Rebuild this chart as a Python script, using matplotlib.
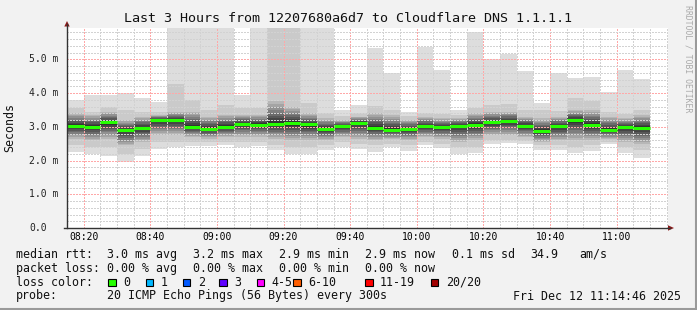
import matplotlib

matplotlib.use("Agg")
import matplotlib.dates as mdates
import matplotlib.pyplot as plt
import matplotlib.transforms as mtransforms
import pandas as pd
from matplotlib.lines import Line2D
from matplotlib.patches import Polygon, Rectangle

W, H = 697, 310
MONO = "DejaVu Sans Mono"

# one bar per 5-minute step, values in ms (smoke levels of the 20 sorted pings)
first_bar = "2025-12-12 08:15"
ping_max = [3.80, 3.95, 3.95, 4.00, 3.85, 3.75, 6.50, 6.50, 6.50, 6.50, 3.95, 6.50,
            6.50, 6.50, 6.50, 6.50, 3.49, 3.66, 5.33, 4.60, 3.45, 5.38, 4.68, 3.49,
            5.82, 5.02, 5.16, 4.65, 3.71, 4.60, 4.44, 4.49, 4.03, 4.68, 4.41]
ping_hi = [3.55, 3.45, 3.60, 3.50, 3.45, 3.45, 4.27, 3.80, 3.50, 3.64, 3.56, 3.56,
           6.20, 6.20, 3.71, 3.42, 3.32, 3.42, 3.61, 3.51, 3.32, 3.42, 3.37, 3.35,
           3.56, 3.64, 3.68, 3.49, 3.49, 3.47, 3.87, 3.76, 3.45, 3.37, 3.49]
core_hi = [3.40, 3.35, 3.45, 3.20, 3.30, 3.35, 3.45, 3.45, 3.30, 3.35, 3.35, 3.35,
           3.76, 3.58, 3.40, 3.25, 3.20, 3.30, 3.40, 3.35, 3.20, 3.30, 3.25, 3.25,
           3.40, 3.45, 3.45, 3.30, 3.25, 3.30, 3.50, 3.50, 3.30, 3.25, 3.35]
median = [3.03, 3.00, 3.13, 2.90, 2.96, 3.21, 3.21, 3.00, 2.94, 3.00, 3.09, 3.06,
          3.07, 3.11, 3.07, 2.94, 3.02, 3.11, 2.98, 2.90, 2.94, 3.02, 3.00, 3.02,
          3.06, 3.13, 3.17, 3.03, 2.88, 3.02, 3.20, 3.06, 2.90, 3.00, 2.96]
core_lo = [2.65, 2.60, 2.65, 2.45, 2.55, 2.75, 2.75, 2.70, 2.65, 2.70, 2.70, 2.70,
           2.65, 2.60, 2.60, 2.60, 2.70, 2.65, 2.60, 2.65, 2.60, 2.70, 2.65, 2.55,
           2.60, 2.75, 2.75, 2.70, 2.55, 2.60, 2.60, 2.60, 2.65, 2.55, 2.50]
ping_lo = [2.45, 2.40, 2.40, 2.20, 2.35, 2.55, 2.55, 2.55, 2.55, 2.55, 2.55, 2.55,
           2.45, 2.40, 2.40, 2.45, 2.55, 2.50, 2.45, 2.50, 2.45, 2.55, 2.50, 2.40,
           2.40, 2.60, 2.62, 2.58, 2.45, 2.45, 2.40, 2.45, 2.55, 2.40, 2.30]
ping_min = [2.25, 2.20, 2.15, 1.95, 2.15, 2.35, 2.40, 2.42, 2.42, 2.45, 2.40, 2.42,
            2.30, 2.20, 2.20, 2.30, 2.40, 2.35, 2.25, 2.40, 2.28, 2.45, 2.38, 2.20,
            2.22, 2.48, 2.51, 2.48, 2.32, 2.32, 2.22, 2.28, 2.48, 2.22, 2.08]

title = "Last 3 Hours from 12207680a6d7 to Cloudflare DNS 1.1.1.1"
y_ticks = [0, 1, 2, 3, 4, 5]
y_tick_labels = ["0.0", "1.0 m", "2.0 m", "3.0 m", "4.0 m", "5.0 m"]

rtt_stats = ["3.0 ms avg", "3.2 ms max", "2.9 ms min", "2.9 ms now", "0.1 ms sd", "34.9", "am/s"]
loss_stats = ["0.00 % avg", "0.00 % max", "0.00 % min", "0.00 % now"]
loss_labels = ["0", "1", "2", "3", "4-5", "6-10", "11-19", "20/20"]
loss_colors = ["#26ff00", "#00b8ff", "#0059ff", "#5e00ff", "#ff00ff", "#ff5e00", "#ff0000", "#a10000"]
probe_text = "20 ICMP Echo Pings (56 Bytes) every 300s"
stamp = "Fri Dec 12 11:14:46 2025"

# smokeping style grey levels, outer band lightest
shades = [221, 202, 183, 164, 145, 126, 107, 88, 69, 50]
inner_frac = [0.88, 0.75, 0.62, 0.5, 0.38, 0.26, 0.14]


def fx(x):
    return x / W


def fy(y):
    return 1 - y / H


fig = plt.figure(figsize=(W / 100, H / 100), dpi=100, facecolor="#f2f2f2")
ax = fig.add_axes([fx(67), fy(228), (668 - 67) / W, (228 - 27.7) / H])
ax.set_facecolor("white")

times = mdates.date2num(pd.date_range(first_bar, periods=len(median), freq="5min").to_pydatetime())
width = 5 / 1440


def grey(level):
    return "#{0:02x}{0:02x}{0:02x}".format(level)


ax.bar(times, [a - b for a, b in zip(ping_max, ping_min)], bottom=ping_min, width=width,
       align="edge", color=grey(shades[0]), linewidth=0, zorder=1)
ax.bar(times, [a - b for a, b in zip(ping_hi, ping_lo)], bottom=ping_lo, width=width,
       align="edge", color=grey(shades[1]), linewidth=0, zorder=1)
ax.bar(times, [a - b for a, b in zip(core_hi, core_lo)], bottom=core_lo, width=width,
       align="edge", color=grey(shades[2]), linewidth=0, zorder=1)
for shade, f in zip(shades[3:], inner_frac):
    tops = [m + (h - m) * f for m, h in zip(median, core_hi)]
    bots = [m - (m - l) * f for m, l in zip(median, core_lo)]
    ax.bar(times, [t - b for t, b in zip(tops, bots)], bottom=bots, width=width,
           align="edge", color=grey(shade), linewidth=0, zorder=1)

ax.hlines(median, times, times + width, colors=loss_colors[0], linewidth=2.2, zorder=3)

start = times[0]
ax.set_xlim(start, start + 180.4 / 1440)
ax.set_ylim(0, 5.94)

ax.xaxis.set_major_locator(mdates.MinuteLocator(byminute=[0, 20, 40]))
ax.xaxis.set_minor_locator(mdates.MinuteLocator(byminute=range(0, 60, 5)))
ax.xaxis.set_major_formatter(mdates.DateFormatter("%H:%M"))
ax.set_yticks(y_ticks)
ax.set_yticks([v / 5 for v in range(0, 30)], minor=True)
ax.tick_params(axis="both", which="both", length=0)
ax.tick_params(axis="x", labelsize=7, pad=3.2)
for lab in ax.get_xticklabels():
    lab.set_fontfamily(MONO)
ax.set_yticklabels([])

ax.set_axisbelow(False)
dots = (0, (1, 1))
ax.grid(which="minor", color="#d2d2d2", linestyle=dots, linewidth=1.0, antialiased=False)
ax.grid(which="major", color="#ffa8a8", linestyle=dots, linewidth=1.0, antialiased=False)
for s in ax.spines.values():
    s.set_visible(False)

# y tick labels, left aligned like rrdtool
trans = mtransforms.blended_transform_factory(fig.transFigure, ax.transData)
for v, lab in zip(y_ticks, y_tick_labels):
    fig.text(fx(29.3), v, lab, transform=trans, ha="left", va="center",
             fontsize=7, family=MONO, color="#222222")

# axis lines with arrows
axis_col = "#333333"
fig.add_artist(Line2D([fx(67), fx(67)], [fy(228), fy(24)], color=axis_col, lw=1.0))
fig.add_artist(Line2D([fx(64), fx(670)], [fy(228), fy(228)], color=axis_col, lw=1.0))
arrow_col = "#8b1a1a"
fig.add_artist(Polygon([(fx(64.3), fy(26.5)), (fx(69.7), fy(26.5)), (fx(67), fy(21))],
                       closed=True, color=arrow_col, lw=0))
fig.add_artist(Polygon([(fx(668), fy(225.3)), (fx(668), fy(230.7)), (fx(674), fy(228))],
                       closed=True, color=arrow_col, lw=0))

# frame of the image
fig.add_artist(Line2D([fx(696), fx(696)], [0, 1], color="#9a9a9a", lw=1.5))
fig.add_artist(Line2D([0, 1], [fy(309), fy(309)], color="#9a9a9a", lw=1.5))

fig.text(fx(348), fy(18.5), title, ha="center", va="center", fontsize=9.6, family=MONO, color="#111111")
fig.text(fx(10), fy(128), "Seconds", ha="center", va="center", rotation=90, fontsize=8.4,
         family=MONO, color="#111111")
fig.text(fx(688), fy(59), "RRDTOOL / TOBI OETIKER", ha="center", va="center", rotation=270,
         fontsize=5.9, family=MONO, color="#aaaaaa")

# legend rows
txt = dict(fontsize=8.4, family=MONO, va="center", ha="left", color="#111111")
row_y = [254.3, 268.3, 282, 296]
fig.text(fx(16), fy(row_y[0]), "median rtt:", **txt)
for x, s in zip([107.3, 193.3, 279.3, 365, 451.7, 530, 579.3], rtt_stats):
    fig.text(fx(x), fy(row_y[0]), s, **txt)
fig.text(fx(16), fy(row_y[1]), "packet loss:", **txt)
for x, s in zip([107.3, 193.3, 279.3, 365], loss_stats):
    fig.text(fx(x), fy(row_y[1]), s, **txt)
fig.text(fx(16), fy(row_y[2]), "loss color:", **txt)
box_x = [108.3, 145.7, 182.7, 219.3, 256.7, 293.3, 365, 430.7]
for x, lab, col in zip(box_x, loss_labels, loss_colors):
    fig.add_artist(Rectangle((fx(x), fy(row_y[2] + 4)), 7.5 / W, 7.5 / H, facecolor=col,
                             edgecolor="black", lw=0.8))
    fig.text(fx(x + 15), fy(row_y[2]), lab, **txt)
fig.text(fx(16), fy(row_y[3]), "probe:", **txt)
fig.text(fx(107.3), fy(row_y[3]), probe_text, **txt)
fig.text(fx(513.3), fy(row_y[3]), stamp, **txt)

fig.savefig("out.png", dpi=100, facecolor=fig.get_facecolor())
